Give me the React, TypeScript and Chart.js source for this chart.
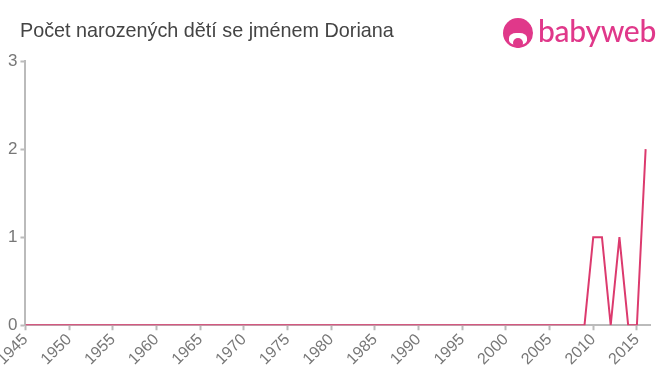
import React, { useEffect, useRef } from "react";
import { Chart, registerables } from "chart.js";

Chart.register(...registerables);

const years: number[] = [];
for (let y = 1945; y <= 2016; y++) years.push(y);
// counts per year; zero everywhere except the years listed
const nonZeroYears = [2010, 2011, 2013, 2016];
const nonZeroValues = [1, 1, 1, 2];
const counts = years.map((y) => {
  const i = nonZeroYears.indexOf(y);
  return i >= 0 ? nonZeroValues[i] : 0;
});
const xTickLabels = [1945, 1950, 1955, 1960, 1965, 1970, 1975, 1980, 1985, 1990, 1995, 2000, 2005, 2010, 2015];
const yTickLabels = [0, 1, 2, 3];

const TITLE = "Počet narozených dětí se jménem Doriana";
const LINE_COLOR = "#dc3a6e";
const LOGO_COLOR = "#e0388a";

export default function App() {
  const ref = useRef<HTMLCanvasElement | null>(null);
  useEffect(() => {
    document.body.style.margin = "0";
    const ctx = ref.current!;
    const chart = new Chart(ctx, {
      type: "line",
      data: {
        datasets: [
          {
            data: years.map((y, i) => ({ x: y, y: counts[i] })),
            borderColor: LINE_COLOR,
            borderWidth: 2,
            pointRadius: 0,
            tension: 0,
            fill: false,
          },
        ],
      },
      options: {
        animation: false,
        responsive: false,
        maintainAspectRatio: false,
        layout: { padding: { top: 61, right: 10, left: 5, bottom: 6 } },
        plugins: { legend: { display: false }, tooltip: { enabled: false }, title: { display: false } },
        scales: {
          x: {
            type: "linear",
            min: 1945,
            max: 2016.5,
            afterBuildTicks: (axis: any) => {
              axis.ticks = xTickLabels.map((v) => ({ value: v }));
            },
            afterFit: (axis: any) => {
              axis.paddingLeft = 0;
            },
            grid: { display: true, drawOnChartArea: false, drawTicks: true, tickLength: 5, tickColor: "#bbbbbb", tickWidth: 2 } as any,
            border: { color: "#bbbbbb", width: 2 },
            ticks: {
              autoSkip: false,
              maxRotation: 45,
              minRotation: 45,
              color: "#777777",
              font: { family: "Liberation Sans, Arial, sans-serif", size: 16 },
              padding: 0,
              callback: (v: any) => String(v),
            },
          },
          y: {
            min: 0,
            max: 3,
            afterBuildTicks: (axis: any) => {
              axis.ticks = yTickLabels.map((v) => ({ value: v }));
            },
            grid: { display: true, drawOnChartArea: false, drawTicks: true, tickLength: 5, tickColor: "#bbbbbb", tickWidth: 2 } as any,
            border: { color: "#bbbbbb", width: 2 },
            ticks: {
              color: "#777777",
              font: { family: "Liberation Sans, Arial, sans-serif", size: 17 },
              padding: 3,
            },
          },
        },
      },
    });
    return () => chart.destroy();
  }, []);

  return (
    <div style={{ position: "fixed", left: 0, top: 0, width: 660, height: 375, overflow: "hidden", background: "#fff" }}>
      <canvas ref={ref} width={660} height={375} style={{ position: "absolute", left: 0, top: 0 }} />
      <div
        style={{
          position: "absolute",
          left: 20,
          top: 19,
          fontFamily: "Liberation Sans, Arial, sans-serif",
          fontSize: 19.8,
          color: "#444",
          whiteSpace: "nowrap",
        }}
      >
        {TITLE}
      </div>
      <div style={{ position: "absolute", left: 503, top: 18, width: 30, height: 30, borderRadius: "50%", background: LOGO_COLOR }}>
        <div style={{ position: "absolute", left: 6, top: 15, width: 18, height: 12, borderRadius: "40%", background: "#fff" }} />
        <div style={{ position: "absolute", left: 10, top: 20, width: 10, height: 10, borderRadius: "50%", background: LOGO_COLOR }} />
      </div>
      <div
        style={{
          position: "absolute",
          left: 538,
          top: 12,
          fontFamily: "Lato, Open Sans, sans-serif",
          fontSize: 30,
          fontWeight: 500,
          color: LOGO_COLOR,
          whiteSpace: "nowrap",
          letterSpacing: -0.3,
        }}
      >
        babyweb
      </div>
    </div>
  );
}
